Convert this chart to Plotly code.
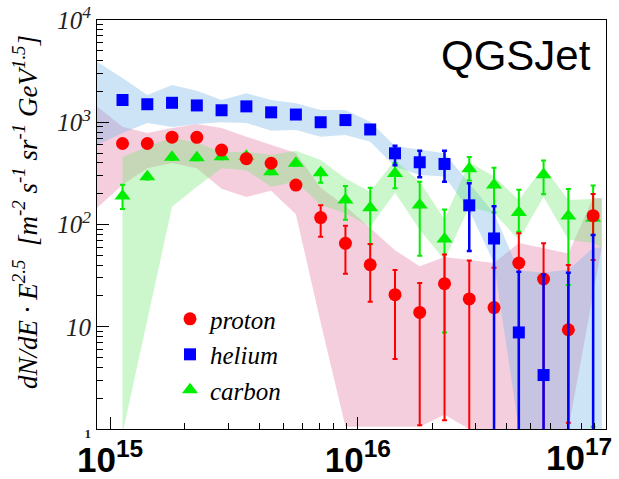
import plotly.graph_objects as go

# ---------------- data ----------------
energy = [1.122e15, 1.413e15, 1.778e15, 2.239e15, 2.818e15, 3.548e15, 4.467e15,
          5.623e15, 7.079e15, 8.913e15, 1.122e16, 1.413e16, 1.778e16, 2.239e16,
          2.818e16, 3.548e16, 4.467e16, 5.623e16, 7.079e16, 8.913e16]

proton = [620, 620, 715, 712, 535, 440, 397, 243, 117, 65.5, 40.4, 20.6, 13.8, 26.4,
          18.7, 15.4, 42, 29.3, 9.35, 122]
proton_hi = [650, 650, 750, 745, 560, 462, 415, 255, 154, 97, 64.5, 35.9, 26.8, 51,
             44.5, 37.8, 82, 65.5, 40.2, 199]
proton_lo = [590, 590, 680, 680, 510, 420, 380, 232, 76, 33, 17.6, 4.84, 1.09, 1.22,
             0, 0, 0, 0, 1.15, 45]

helium = [1650, 1500, 1550, 1460, 1310, 1430, 1250, 1190, 1000, 1050, 850, 497, 406,
          391, 154, 73, 8.8, 3.37, 0.5, 0.5]
helium_hi = [1720, 1560, 1610, 1520, 1360, 1490, 1300, 1240, 1040, 1100, 890, 590, 527,
             527, 253, 151, 34.5, 32.5, 33.8, 79]
helium_lo = [1580, 1440, 1490, 1400, 1260, 1370, 1200, 1140, 960, 1000, 810, 380, 289,
             262, 55, 0, 0, 0, 0, 0]

carbon = [190, 293, 454, 450, 460, 465, 328, 397, 321, 174, 146, 316, 155, 72, 350, 243,
          131, 307, 121, 115]
carbon_hi = [245, 310, 480, 475, 485, 490, 345, 418, 345, 238, 229, 400, 262, 140, 457,
             358, 219, 422, 223, 240]
carbon_lo = [142, 275, 430, 425, 435, 440, 310, 375, 256, 111, 64, 226, 49.5, 8.8, 270,
             131, 85, 198, 25.6, 1.05]

# systematic bands (edge energies + bin centres)
band_energy_ph = [8.851e14] + energy + [9.66e16]
band_energy_c = energy + [9.66e16]

proton_band_up = [1429, 906, 785, 879, 962, 879, 723, 600, 500, 229, 151, 92.5, 56, 39,
                  48, 45, 42, 66, 59, 52, 182, 182]
proton_band_dn = [145, 245, 355, 400, 355, 224, 186, 214, 126, 11, 1.05, 1.05, 1.05, 1.05,
                  1.38, 1.0, 0.1, 0.1, 0.1, 1.0, 21, 60]
helium_band_up = [3908, 2710, 1849, 2312, 2037, 1652, 1919, 1652, 1531, 1318, 1318, 1012,
                  586, 536, 497, 255, 129, 35.5, 34, 36, 59, 60]
helium_band_dn = [600, 785, 984, 900, 962, 1000, 984, 826, 839, 723, 750, 646, 367, 305,
                  294, 138, 42, 1.0, 0.1, 0.1, 0.1, 0.1]
carbon_band_up = [457, 575, 708, 631, 513, 513, 479, 525, 427, 282, 209, 427, 263, 112,
                  407, 295, 174, 367, 174, 180, 180]
carbon_band_dn = [0.9, 11.6, 149, 234, 355, 339, 234, 263, 155, 129, 95, 204, 89, 45,
                  148, 129, 71, 186, 71, 66, 60]

x_tickvals = [1e15, 1e16]
x_ticktext = ["10<sup>15</sup>", "10<sup>16</sup>"]
x_last_label = "10<sup>17</sup>"
x_minor = [2e15, 3e15, 4e15, 5e15, 6e15, 7e15, 8e15, 9e15,
           2e16, 3e16, 4e16, 5e16, 6e16, 7e16, 8e16, 9e16]
y_tickvals = [1, 10, 100, 1000, 10000]
y_ticktext = ["<span style='font-size:13px;font-style:normal'><b>1</b></span>", "10",
              "10<sup>2</sup>", "10<sup>3</sup>", "10<sup>4</sup>"]
y_minor = [2, 3, 4, 5, 6, 7, 8, 9, 20, 30, 40, 50, 60, 70, 80, 90,
           200, 300, 400, 500, 600, 700, 800, 900, 2000, 3000, 4000, 5000, 6000, 7000, 8000, 9000]

SERIF = "Liberation Serif, Times New Roman, serif"
SANS = "Liberation Sans, Arial, sans-serif"

fig = go.Figure()

def band(xs, up, dn, color):
    fig.add_trace(go.Scatter(x=xs + xs[::-1], y=up + dn[::-1], mode="lines",
                             fill="toself", fillcolor=color, line=dict(width=0),
                             hoverinfo="skip", showlegend=False))

band(band_energy_ph, proton_band_up, proton_band_dn, "rgba(226,120,160,0.36)")
band(band_energy_ph, helium_band_up, helium_band_dn, "rgba(112,178,232,0.35)")
band(band_energy_c, carbon_band_up, carbon_band_dn, "rgba(109,232,109,0.35)")

def series(name, vals, hi, lo, color, symbol, size, thick, rank):
    fig.add_trace(go.Scatter(
        x=energy, y=vals, mode="markers", name=name, legendrank=rank,
        legendgroup=name,
        marker=dict(color=color, symbol=symbol, size=size, line=dict(width=0)),
        error_y=dict(type="data", symmetric=False,
                     array=[h - v for h, v in zip(hi, vals)],
                     arrayminus=[v - l for v, l in zip(vals, lo)],
                     color=color, thickness=thick, width=2.5)))

series("carbon", carbon, carbon_hi, carbon_lo, "#00ee00", "triangle-up", 14, 2, 3)
series("proton", proton, proton_hi, proton_lo, "#ff0000", "circle", 13, 2, 1)
series("helium", helium, helium_hi, helium_lo, "#0000ff", "square", 12, 2.5, 2)

fig.update_layout(
    width=619, height=479,
    margin=dict(l=97, r=13, t=20, b=50),
    plot_bgcolor="white", paper_bgcolor="white",
    showlegend=True,
    legend=dict(x=0.1434, y=0.325, xanchor="left", yanchor="top",
                bgcolor="rgba(0,0,0,0)", tracegroupgap=0,
                font=dict(family=SERIF, size=25, style="italic", color="black")),
    xaxis=dict(type="log", range=[14.947, 17.002], showgrid=False, zeroline=False,
               showline=True, linecolor="black", linewidth=1, mirror=True,
               automargin=False,
               ticks="inside", ticklen=12, tickcolor="black",
               tickvals=x_tickvals, ticktext=x_ticktext,
               tickfont=dict(family=SANS, size=35, weight="bold", color="black"),
               minor=dict(tickvals=x_minor, ticks="inside", ticklen=6,
                          tickcolor="black", showgrid=False)),
    yaxis=dict(type="log", range=[0, 4], showgrid=False, zeroline=False,
               showline=True, linecolor="black", linewidth=1, mirror=True,
               automargin=False,
               ticks="inside", ticklen=12, tickcolor="black",
               tickvals=y_tickvals, ticktext=y_ticktext,
               tickfont=dict(family=SERIF, size=25, style="italic", color="#222"),
               minor=dict(tickvals=y_minor, ticks="inside", ticklen=6,
                          tickcolor="black", showgrid=False)),
    annotations=[
        dict(text="QGSJet", xref="paper", yref="paper", x=0.9745, y=0.912,
             xanchor="right", yanchor="middle", showarrow=False,
             font=dict(family=SANS, size=42, color="black")),
        dict(text="dN/dE · E<sup>2.5</sup>  [m<sup>-2</sup> s<sup>-1</sup> sr<sup>-1</sup> GeV<sup>1.5</sup>]",
             xref="paper", yref="paper", x=-0.1400, y=0.53, textangle=-90,
             xanchor="center", yanchor="middle", showarrow=False,
             font=dict(family=SERIF, size=27, style="italic", color="black")),
        dict(text=x_last_label, xref="x", yref="paper", x=17, y=-0.1222,
             xanchor="right", yanchor="bottom", xshift=8, showarrow=False,
             font=dict(family=SANS, size=35, weight="bold", color="black")),
    ],
)

fig.write_html("out.html")
